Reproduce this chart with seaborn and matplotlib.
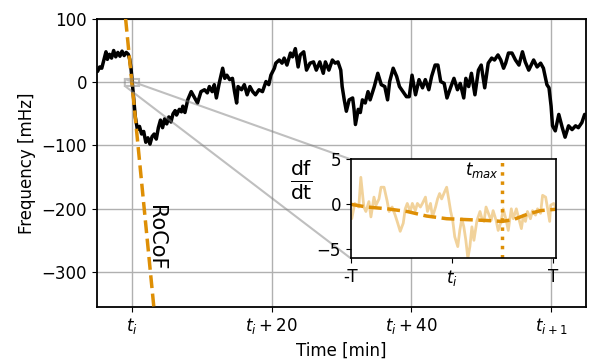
import matplotlib
matplotlib.use("Agg")
import matplotlib.pyplot as plt
import seaborn as sns
import pandas as pd

# frequency trace (minutes after t_i, mHz)
t_min = [-4.9, -4.6, -4.3, -4.0, -3.7, -3.5, -3.2, -2.9, -2.6, -2.3, -2.0, -1.7, -1.4, -1.1,
         -0.8, -0.5, -0.3, -0.1, 0.1, 0.3, 0.5, 0.8, 1.1, 1.4, 1.7, 2.0, 2.3, 2.6, 2.9, 3.2,
         3.5, 3.8, 4.1, 4.4, 4.7, 5.0, 5.3, 5.6, 5.9, 6.2, 6.4, 6.8, 7.1, 7.3, 7.6, 8.0, 8.5,
         9.0, 9.4, 9.9, 10.4, 10.8, 11.1, 11.5, 11.8, 12.1, 12.5, 13.0, 13.3, 13.6, 14.0, 14.4,
         14.7, 15.0, 15.2, 15.7, 16.1, 16.5, 16.9, 17.3, 17.7, 18.2, 18.7, 19.2, 19.6, 19.9,
         20.4, 20.6, 21.1, 21.5, 21.8, 22.2, 22.7, 23.0, 23.4, 23.8, 24.1, 24.6, 25.0, 25.5,
         26.0, 26.4, 26.9, 27.4, 27.7, 28.2, 28.7, 29.1, 29.5, 29.9, 30.1, 30.4, 30.7, 31.1,
         31.6, 31.8, 32.0, 32.4, 32.7, 33.0, 33.4, 33.8, 34.1, 34.7, 35.2, 35.7, 36.2, 36.6,
         36.9, 37.4, 37.9, 38.3, 38.8, 39.3, 39.7, 40.1, 40.6, 41.1, 41.6, 42.0, 42.5, 42.9,
         43.4, 43.8, 44.2, 44.7, 45.1, 45.6, 46.1, 46.6, 47.0, 47.5, 47.8, 48.2, 48.6, 49.1,
         49.6, 50.0, 50.5, 51.0, 51.5, 51.9, 52.4, 52.8, 53.2, 53.5, 53.9, 54.4, 54.9, 55.4,
         55.9, 56.3, 56.8, 57.5, 58.0, 58.5, 58.9, 59.4, 59.7, 60.0, 60.2, 60.6, 61.1, 61.6,
         62.0, 62.5, 63.0, 63.5, 63.9, 64.4, 64.8]
freq_mhz = [17, 24, 22, 35, 48, 36, 44, 38, 50, 40, 47, 41, 49, 42,
            47, 44, 36, 20, -5, -30, -55, -75, -70, -82, -78, -95, -88, -98, -86, -82,
            -90, -72, -60, -72, -58, -66, -55, -63, -50, -45, -52, -43, -47, -38, -48, -28, -15,
            -25, -33, -15, -12, -17, -7, -15, -4, -25, -2, 22, 6, 11, 4, 6,
            -15, -33, -7, -12, -4, -20, -7, -15, -20, -12, -15, 1, -4, 11,
            22, 30, 35, 30, 38, 27, 46, 40, 53, 24, 43, 48, 19, 30,
            32, 19, 32, 14, 32, 19, 35, 30, 32, 19, -7, -28, -46, -28,
            -25, -43, -67, -43, -48, -28, -33, -15, -28, -7, 14, -4, -7, -28,
            1, 22, 9, -7, -15, -23, -23, 11, -20, 4, -9, 4, -12, 9,
            27, 27, 1, -2, -25, -9, 6, -12, -2, -25, 6, -7, 14, -20,
            19, 27, -9, 30, 38, 35, 43, 35, 22, 30, 46, 46, 35, 27,
            48, 32, 19, 35, 24, 30, 22, -4, -9, -38, -69, -77, -51, -72,
            -87, -69, -75, -69, -72, -64, -51]

# inset: rate of change around t_i (window -T..T, mHz/s)
win_u = [-0.99, -0.96, -0.92, -0.90, -0.87, -0.85, -0.82, -0.80, -0.77, -0.75, -0.72, -0.70,
         -0.67, -0.64, -0.62, -0.59, -0.56, -0.54, -0.51, -0.48, -0.46, -0.44, -0.41, -0.39,
         -0.36, -0.34, -0.31, -0.29, -0.26, -0.24, -0.21, -0.19, -0.16, -0.14, -0.12, -0.10,
         -0.07, -0.05, -0.03, -0.01, 0.01, 0.03, 0.06, 0.08, 0.10, 0.12, 0.14, 0.16, 0.18,
         0.20, 0.22, 0.25, 0.28, 0.30, 0.32, 0.34, 0.37, 0.39, 0.41, 0.44, 0.46, 0.49, 0.51,
         0.54, 0.56, 0.59, 0.61, 0.64, 0.66, 0.69, 0.71, 0.73, 0.75, 0.78, 0.80, 0.83, 0.85,
         0.88, 0.90, 0.93, 0.95, 0.97, 0.98, 1.01, 1.03]
dfdt_raw = [-1.6, 0.1, -0.3, 3.0, -0.3, -0.8, 0.3, -1.4, 0.8, -0.1, 0.6, 1.9,
            1.9, 0.4, -0.8, -0.3, -1.2, -1.9, -3.0, -2.1, -0.5, 0.1, -0.8, 0.1,
            -0.7, 0.1, -0.3, 0.1, 0.8, -0.8, 0.1, -1.4, -0.3, 0.6, 1.2, 0.6,
            1.4, 1.9, 0.6, -0.8, -1.8, -3.6, -4.7, -2.9, -1.6, -2.5, -4.0, -6.0, -4.7,
            -2.5, -4.0, -1.8, -0.8, -1.6, -1.9, -0.3, -1.2, -1.8, -0.7, -1.8, -2.9, -1.9, -0.5,
            -1.8, -2.9, -0.5, -1.6, -0.5, -1.4, -2.7, -1.2, -1.9, -0.8, -1.6, -0.7, -1.2, -0.5,
            -1.0, 1.0, 0.8, -0.5, -1.9, -0.1, 0.1, -0.3]
smooth_u = [-1.0, -0.84, -0.64, -0.44, -0.25, -0.05, 0.15, 0.35, 0.50, 0.61, 0.75, 0.88, 1.03]
dfdt_smooth = [0.0, -0.3, -0.5, -0.8, -1.3, -1.6, -1.7, -1.8, -1.9, -1.7, -1.1, -0.7, -0.55]
t_max = 0.50
rocof = -1.88  # mHz/s

main_xticks = [0, 20, 40, 60]
main_xlabels = ["$t_i$", "$t_i + 20$", "$t_i + 40$", "$t_{i+1}$"]
inset_xticks = [-1, 0, 1]
inset_xlabels = ["-T", "$t_i$", "T"]

sns.set_style("ticks")
plt.rcParams["font.family"] = ["DejaVu Sans"]
plt.rcParams["font.size"] = 12
plt.rcParams["text.color"] = "black"
plt.rcParams["axes.labelcolor"] = "black"
plt.rcParams["xtick.color"] = "black"
plt.rcParams["ytick.color"] = "black"
plt.rcParams["axes.edgecolor"] = "black"

orange = sns.color_palette("colorblind")[1]

df = pd.DataFrame({"t": t_min, "f": freq_mhz})
win = pd.DataFrame({"u": win_u, "d": dfdt_raw})
smooth = pd.DataFrame({"u": smooth_u, "d": dfdt_smooth})

fig = plt.figure(figsize=(5.98, 3.63), dpi=100)
ax = fig.add_axes([0.162, 0.155, 0.818, 0.793])

sns.lineplot(data=df, x="t", y="f", color="black", lw=2.5, ax=ax)
ax.axline((0, 0), slope=rocof * 60, color=orange, ls="--", lw=2.5, zorder=3)
ax.text(3.5, -246, "RoCoF", rotation=-90, fontsize=15, ha="center", va="center")

ax.set_xlim(-5, 65)
ax.set_ylim(-355, 100)
ax.set_xticks(main_xticks, main_xlabels)
ax.set_yticks([100, 0, -100, -200, -300])
ax.grid(True, color="#b0b0b0", lw=1)
ax.set_xlabel("Time [min]")
ax.set_ylabel("Frequency [mHz]")
for s in ax.spines.values():
    s.set_linewidth(1.3)

# zoomed window
ax_in = fig.add_axes([0.5865, 0.2884, 0.3428, 0.2727])
sns.lineplot(data=win, x="u", y="d", color=orange, alpha=0.4, lw=2, ax=ax_in)
sns.lineplot(data=smooth, x="u", y="d", color=orange, ls="--", lw=2.5, ax=ax_in)
ax_in.axvline(t_max, color=orange, ls=":", lw=2.5)
ax_in.text(t_max - 0.03, 3.8, "$t_{max}$", ha="right", va="center", fontsize=12)
ax_in.set_xlim(-1, 1.03)
ax_in.set_ylim(-6, 5)
ax_in.set_xticks(inset_xticks, inset_xlabels)
ax_in.set_yticks([-5, 0, 5])
ax_in.set_xlabel("")
ax_in.set_ylabel("")
ax_in.text(-0.24, 0.79, r"$\frac{\mathrm{df}}{\mathrm{dt}}$", transform=ax_in.transAxes,
           ha="center", va="center", fontsize=21)
for s in ax_in.spines.values():
    s.set_linewidth(1.2)

ind = ax.indicate_inset_zoom(ax_in, edgecolor="0.5", lw=1.5)
conn = ind.connectors
for k, c in enumerate(conn):
    c.set_visible(k < 2)

fig.savefig("out.png", dpi=100)
